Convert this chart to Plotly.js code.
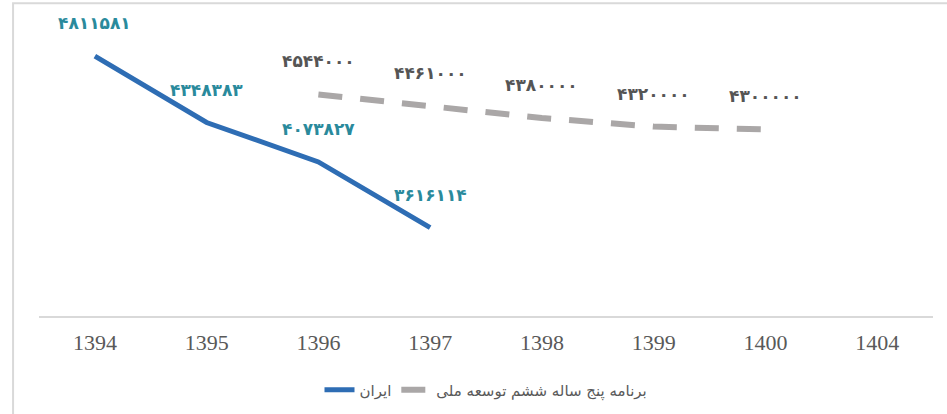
<!DOCTYPE html>
<html>
<head>
<meta charset="utf-8">
<script src="https://cdn.plot.ly/plotly-3.0.1.min.js"></script>
<style>html,body{margin:0;padding:0;background:#fff;}#chart{width:947px;height:414px;}</style>
</head>
<body>
<div id="chart"></div>
<script>
const categories = ["1394","1395","1396","1397","1398","1399","1400","1404"];
const iranYears = ["1394","1395","1396","1397"];
const iranValues = [4811581, 4348383, 4073827, 3616114];
const planYears = ["1396","1397","1398","1399","1400"];
const planValues = [4544000, 4461000, 4380000, 4320000, 4300000];
const iranName = "ایران";
const planName = "برنامه پنج ساله ششم توسعه ملی";

function toPersian(n){
  const d = "۰۱۲۳۴۵۶۷۸۹";
  return String(n).replace(/[0-9]/g, c => d[+c]);
}

const traces = [
  {x: iranYears, y: iranValues, name: iranName, type: "scatter", mode: "lines",
   line: {color: "#2e6db4", width: 5}},
  {x: planYears, y: planValues, name: planName, type: "scatter", mode: "lines",
   line: {color: "#aaa7a7", width: 6, dash: "24px,18px"}}
];

const annotations = [];
iranYears.forEach((yr, i) => annotations.push({
  x: categories.indexOf(yr), y: iranValues[i], xref: "x", yref: "y", text: toPersian(iranValues[i]),
  showarrow: false, yshift: 33,
  font: {family: "DejaVu Sans", size: 17, color: "#2a8a9c", weight: "bold"}
}));
planYears.forEach((yr, i) => annotations.push({
  x: categories.indexOf(yr), y: planValues[i], xref: "x", yref: "y", text: toPersian(planValues[i]),
  showarrow: false, yshift: 33,
  font: {family: "DejaVu Sans", size: 17, color: "#555555", weight: "bold"}
}));

const layout = {
  width: 947, height: 414,
  margin: {l: 39, r: 14, t: 29, b: 98, autoexpand: false},
  paper_bgcolor: "#ffffff", plot_bgcolor: "#ffffff",
  showlegend: true,
  legend: {orientation: "h", x: 0.5, xanchor: "center", yref: "container", y: 0.058, yanchor: "middle",
           font: {family: "DejaVu Sans", size: 15, color: "#595959"}},
  xaxis: {type: "category", categoryorder: "array", categoryarray: categories,
          range: [-0.5, categories.length - 0.5], automargin: false,
          showline: true, linecolor: "#d9d9d9", linewidth: 2, showgrid: false,
          zeroline: false, ticks: "", ticklabelstandoff: 6,
          tickfont: {family: "Liberation Serif, Times New Roman, serif", size: 22, color: "#595959"}},
  yaxis: {range: [3000000, 5000000], showgrid: false, zeroline: false, automargin: false,
          showticklabels: false, showline: false},
  annotations: annotations,
  shapes: [{type: "rect", xref: "paper", yref: "paper",
            x0: -0.029, x1: 1.06, y0: -0.5, y1: 1.09,
            line: {color: "#d9d9d9", width: 2}, fillcolor: "rgba(0,0,0,0)"}]
};

Plotly.newPlot("chart", traces, layout, {displayModeBar: false});
</script>
</body>
</html>
